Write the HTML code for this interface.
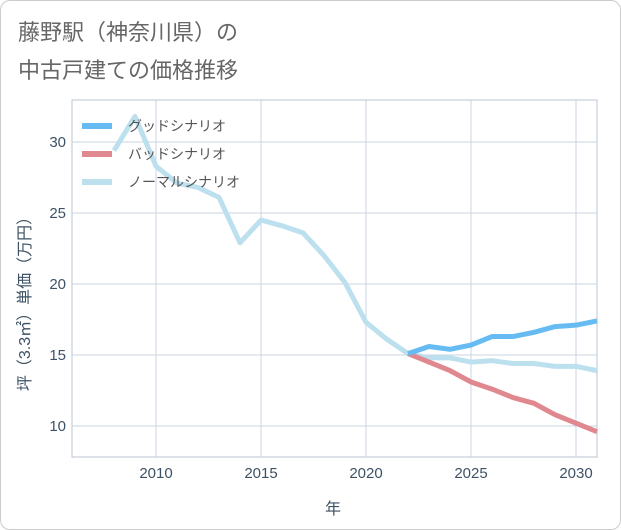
<!DOCTYPE html>
<html><head><meta charset="utf-8">
<style>
body{margin:0;background:#fff;font-family:"Liberation Sans","Noto Sans CJK JP",sans-serif;}
#wrap{position:relative;width:619px;height:528px;border:1px solid #ccc;border-radius:10px;overflow:hidden;}
</style></head>
<body>
<div id="wrap">
<svg id="chart" width="621" height="530" style="position:absolute;left:-1px;top:-1px">
<text x="18" y="40" font-size="22" fill="#666">藤野駅（神奈川県）の</text>
<text x="18" y="78" font-size="22" fill="#666">中古戸建ての価格推移</text>
<g id="grid"></g><g id="series"></g><g id="ticks"></g>
<text x="333" y="514" font-size="16" fill="#3e5266" text-anchor="middle">年</text>
<text transform="translate(30,300) rotate(-90)" font-size="16" fill="#3e5266" text-anchor="middle">坪（3.3㎡）単価（万円）</text>
<g id="legend"></g>
</svg>
</div>
<script>
const years=[2008,2009,2010,2011,2012,2013,2014,2015,2016,2017,2018,2019,2020,2021,2022,2023,2024,2025,2026,2027,2028,2029,2030,2031];
const normalValues=[29.4,31.8,28.3,27.1,26.8,26.1,22.9,24.5,24.1,23.6,22.0,20.1,17.3,16.1,15.1,14.8,14.8,14.5,14.6,14.4,14.4,14.2,14.2,13.9];
const goodYears=[2022,2023,2024,2025,2026,2027,2028,2029,2030,2031];
const goodValues=[15.1,15.6,15.4,15.7,16.3,16.3,16.6,17.0,17.1,17.4];
const badValues=[15.1,14.5,13.9,13.1,12.6,12.0,11.6,10.8,10.2,9.6];
const xTicks=[2010,2015,2020,2025,2030];
const yTicks=[10,15,20,25,30];
const legendLabels=["グッドシナリオ","バッドシナリオ","ノーマルシナリオ"];
const NS="http://www.w3.org/2000/svg";
const L=72,R=597,T=100,B=457;
const x=v=>L+(v-2006)*(R-L)/25;
const y=v=>355-(v-15)*14.2;
function mk(tag,attrs,parent){const e=document.createElementNS(NS,tag);for(const k in attrs)e.setAttribute(k,attrs[k]);parent.appendChild(e);return e;}
const grid=document.getElementById('grid'),ticks=document.getElementById('ticks'),ser=document.getElementById('series'),leg=document.getElementById('legend');
let r=mk('rect',{x:L,y:T,width:R-L,height:B-T,fill:'none',stroke:'#b8c4d0'},grid);


xTicks.forEach(t=>{
 let l=mk('line',{x1:x(t),x2:x(t),y1:T,y2:B,stroke:'#c8d4e0'},grid);
 
 
 let tx=mk('text',{x:x(t),y:478,'font-size':15,fill:'#3e5266','text-anchor':'middle'},ticks);
 tx.textContent=t;
 
 
});
yTicks.forEach(t=>{
 let l=mk('line',{x1:L,x2:R,y1:y(t),y2:y(t),stroke:'#c8d4e0'},grid);
 
 
 let tx=mk('text',{x:66,y:y(t)+5,'font-size':15,fill:'#3e5266','text-anchor':'end'},ticks);
 tx.textContent=t;
 
 
});
function line(xs,vs,color,name){
 let p=mk('polyline',{points:xs.map((v,i)=>x(v)+','+y(vs[i])).join(' '),fill:'none',stroke:color,'stroke-width':5,'stroke-linejoin':'round'},ser);
 
 
}
line(years,normalValues,'#bde0ef','normal-scenario-line');
line(goodYears,badValues,'#e0888f','bad-scenario-line');
line(goodYears,goodValues,'#66bbf2','good-scenario-line');
const legColors=['#66bbf2','#e0888f','#bde0ef'];
legendLabels.forEach((s,i)=>{
 const yy=126+i*28;
 let l=mk('line',{x1:82,x2:112,y1:yy,y2:yy,stroke:legColors[i],'stroke-width':6},leg);
 
 
 let t=mk('text',{x:128,y:yy+5,'font-size':14,fill:'#555'},leg);
 t.textContent=s;
 
 
});
</script>
</body></html>
